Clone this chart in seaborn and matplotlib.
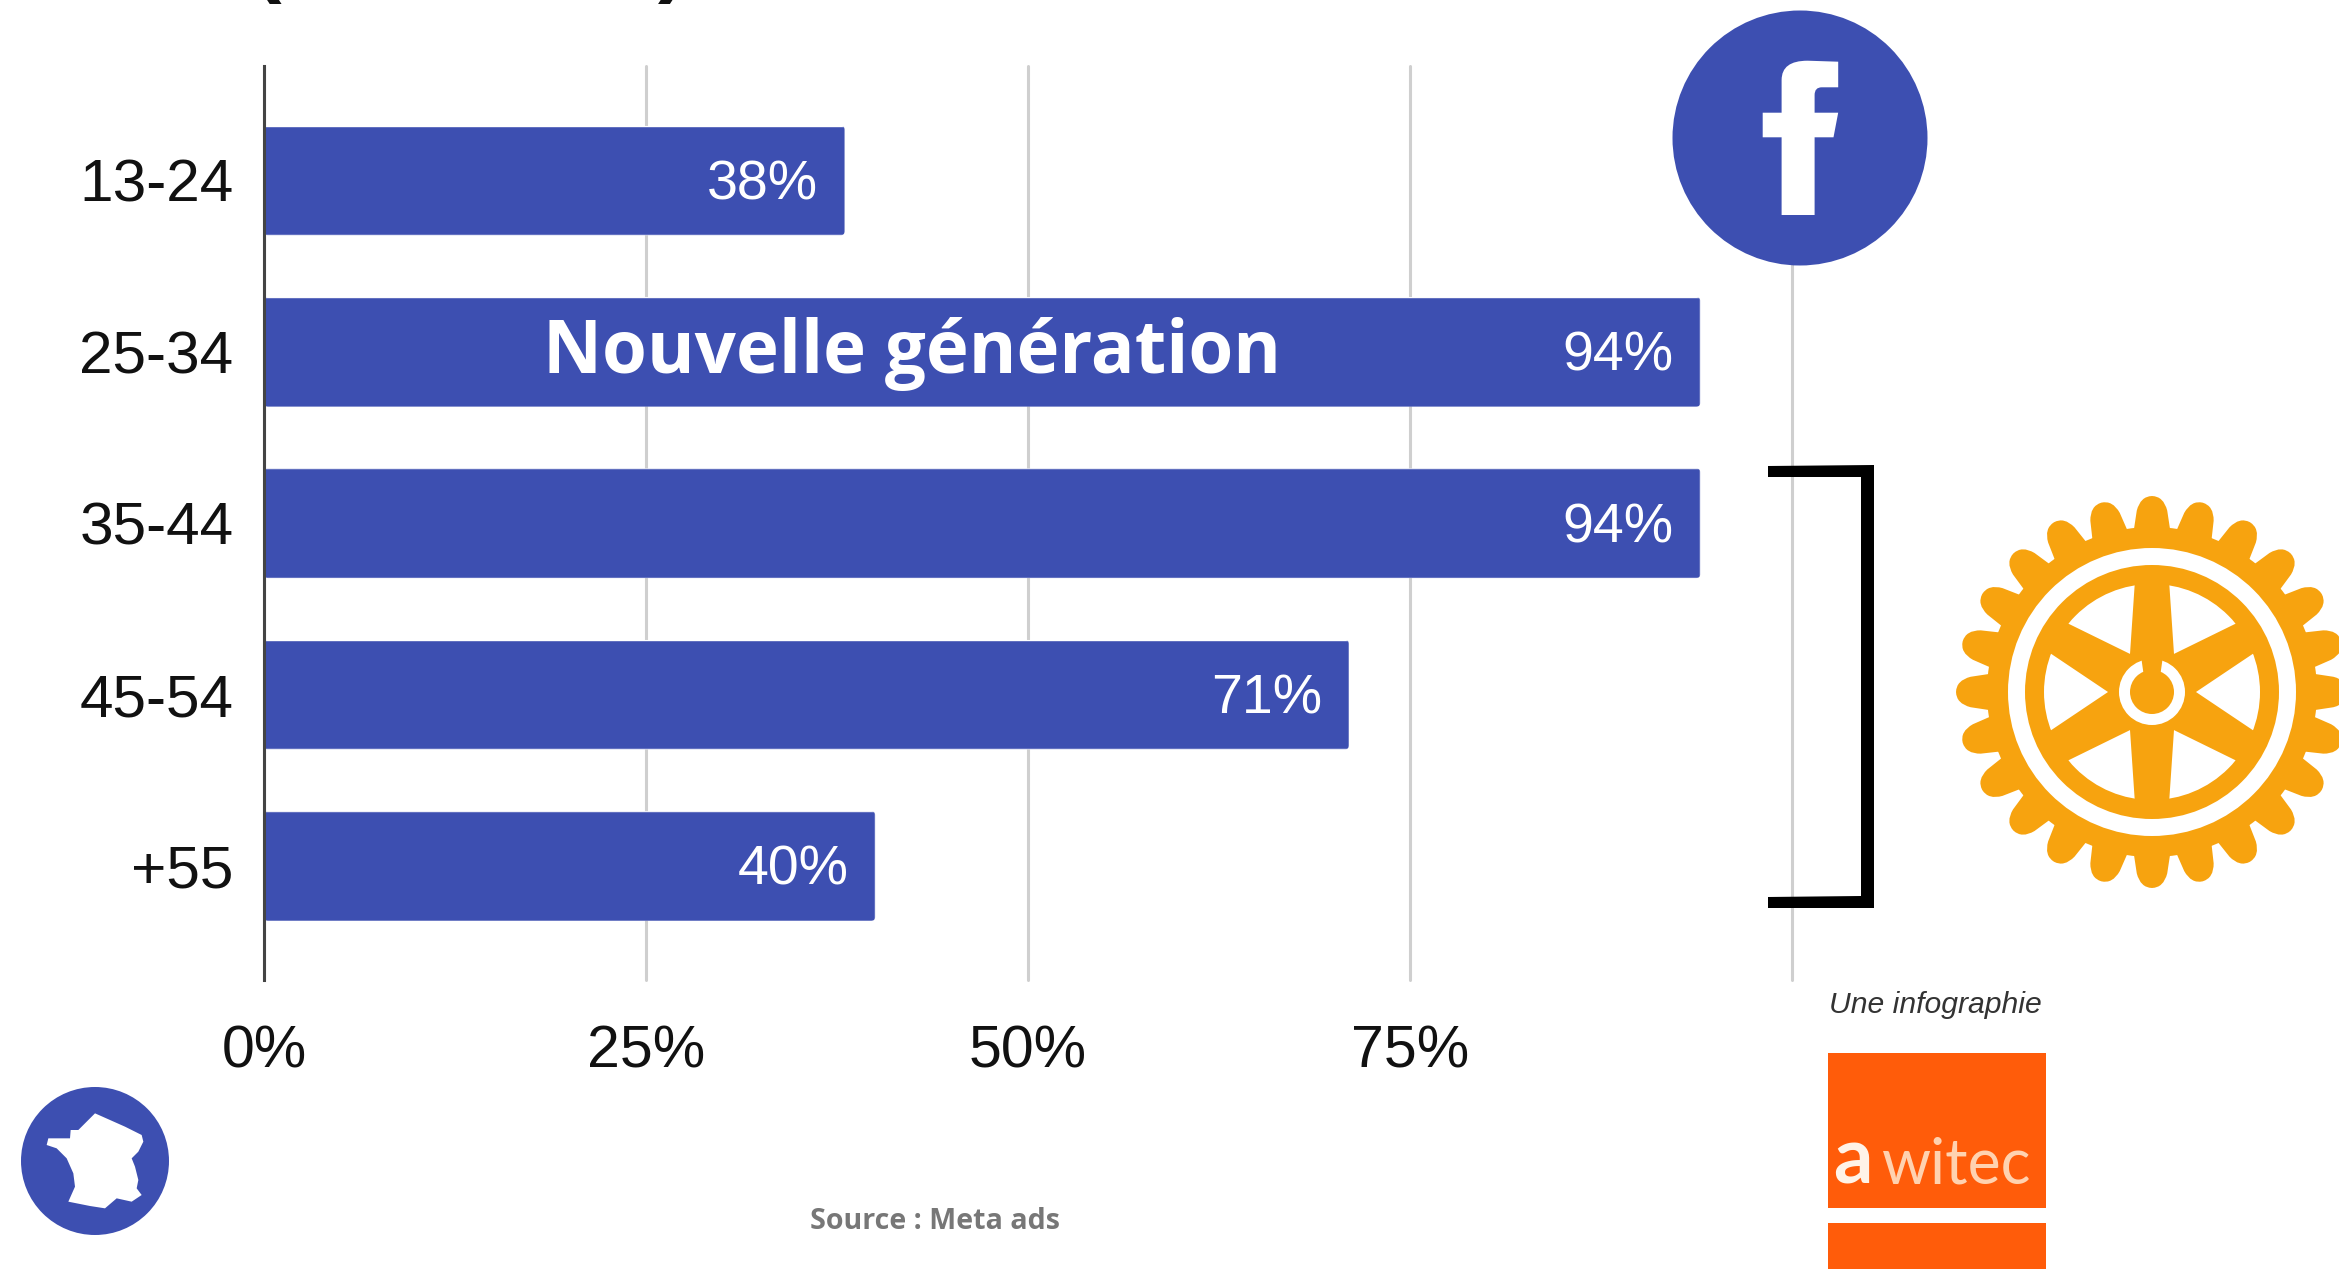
import numpy as np
import pandas as pd
import seaborn as sns
import matplotlib
matplotlib.use("Agg")
import matplotlib.pyplot as plt
from matplotlib.patches import Circle, FancyBboxPatch, PathPatch, Polygon, Rectangle
from matplotlib.path import Path

# Audience share by age group
age_groups = ["13-24", "25-34", "35-44", "45-54", "+55"]
shares = [38, 94, 94, 71, 40]
x_ticks = [0, 25, 50, 75, 100]
x_tick_labels = ["0%", "25%", "50%", "75%", ""]

BLUE = "#3D4FB1"
GOLD = "#F7A30F"
ORANGE = "#FF5C0A"
W, H = 2339, 1269

sns.set_theme(style="white")
plt.rcParams["font.family"] = ["Liberation Sans", "DejaVu Sans"]

fig = plt.figure(figsize=(W / 100, H / 100), dpi=100, facecolor="white")
ax = fig.add_axes([264 / W, 1 - 980 / H, (1792 - 264) / W, (980 - 66) / H])

df = pd.DataFrame({"age": age_groups, "share": shares})
sns.barplot(data=df, y="age", x="share", color=BLUE, saturation=1, width=0.64,
            orient="h", ax=ax, zorder=3)
ax.set_xlim(0, 100)
ax.set_ylim(4.665, -0.668)
ax.set_xlabel("")
ax.set_ylabel("")
ax.set_xticks(x_ticks, x_tick_labels)
ax.grid(axis="x", color="#CFCFCF", linewidth=2.2, zorder=0, clip_on=False)
ax.set_axisbelow(True)
for side in ("top", "right", "bottom"):
    ax.spines[side].set_visible(False)
ax.spines["left"].set_color("#444444")
ax.spines["left"].set_linewidth(2.2)
ax.spines["left"].set_zorder(5)
ax.tick_params(axis="x", length=0, pad=32, labelsize=42.5, labelcolor="#111111")
ax.tick_params(axis="y", length=0, pad=22, labelsize=43.5, labelcolor="#111111")

# Slightly rounded bar ends, and the value inside each bar
for bar, value in zip(ax.patches, shares):
    clip = FancyBboxPatch((bar.get_x(), bar.get_y()), bar.get_width(), bar.get_height(),
                          boxstyle="round,pad=0,rounding_size=0.28", mutation_aspect=0.09,
                          transform=ax.transData)
    bar.set_clip_path(clip)
    y = bar.get_y() + bar.get_height() / 2
    ax.annotate(f"{value}%", (value, y), xytext=(-19.4, -3.5), textcoords="offset points",
                ha="right", va="center", color="white", fontsize=40, zorder=6)

# Overlay in figure pixels for the logos and annotations
ov = fig.add_axes([0, 0, 1, 1], facecolor="none")
ov.set_xlim(0, W)
ov.set_ylim(H, 0)
ov.axis("off")

# Ends of the cropped heading
ov.text(253, -14, "(", fontsize=62, fontweight="bold", color="#111111", va="baseline")
ov.text(658, -14, ")", fontsize=62, fontweight="bold", color="#111111", va="baseline")

ov.text(543, 373, "Nouvelle génération", family="Open Sans", fontweight="bold",
        fontsize=52.3, color="white", va="baseline", zorder=8)
ov.text(810, 1229, "Source : Meta ads", family="Open Sans", fontweight="bold",
        fontsize=20.6, color="#777777", va="baseline")

# Facebook badge
ov.add_patch(Circle((1800, 138), 127.5, color=BLUE, lw=0))
f_verts = [(1781.6, 215), (1814.6, 215), (1814.6, 137.3), (1833.5, 137.3), (1838.2, 112.7),
           (1814.6, 112.7), (1814.6, 95), (1814.6, 87.3), (1821.7, 87.3), (1838.2, 87.3),
           (1838.2, 61.7), (1807.5, 60.7), (1781.6, 60.7), (1781.6, 80), (1781.6, 112.7),
           (1762.7, 112.7), (1762.7, 137.3), (1781.6, 137.3), (1781.6, 215)]
f_codes = [Path.MOVETO, Path.LINETO, Path.LINETO, Path.LINETO, Path.LINETO, Path.LINETO,
           Path.LINETO, Path.CURVE3, Path.CURVE3, Path.LINETO, Path.LINETO, Path.LINETO,
           Path.CURVE3, Path.CURVE3, Path.LINETO, Path.LINETO, Path.LINETO, Path.LINETO,
           Path.CLOSEPOLY]
ov.add_patch(PathPatch(Path(f_verts, f_codes), facecolor="white", lw=0))

# Bracket spanning the 35-44 to +55 bars
bracket = [(1768, 466), (1874, 465), (1874, 908), (1768, 908), (1768, 897), (1861, 896),
           (1861, 477), (1768, 477)]
ov.add_patch(Polygon(bracket, closed=True, facecolor="black", lw=0, zorder=7))

# Cog wheel
cx, cy = 2152, 692


def polar(r, deg):
    a = np.deg2rad(deg)
    return cx + r * np.sin(a), cy - r * np.cos(a)


verts, codes = [], []
for tooth in range(24):
    c = tooth * 15.0
    pts = [polar(163, c - 7.5), polar(163, c - 6.4), polar(182, c - 4.8), polar(196, c - 3.4),
           polar(196, c), polar(196, c + 3.4), polar(182, c + 4.8), polar(163, c + 6.4)]
    kinds = [Path.LINETO, Path.LINETO, Path.LINETO, Path.CURVE3, Path.CURVE3, Path.CURVE3,
             Path.CURVE3, Path.LINETO]
    verts += pts
    codes += kinds
codes[0] = Path.MOVETO
verts.append(verts[0])
codes.append(Path.CLOSEPOLY)
ov.add_patch(PathPatch(Path(verts, codes), facecolor=GOLD, lw=0))
for radius, colour in [(165, GOLD), (144, "white"), (127, GOLD), (108, "white")]:
    ov.add_patch(Circle((cx, cy), radius, color=colour, lw=0))
for spoke in range(6):
    a = np.deg2rad(spoke * 60.0)
    outline = [(0, 22), (38, 22), (112, 17), (112, -17), (38, -22), (0, -22)]
    rot = [(cx + along * np.sin(a) + half * np.cos(a),
            cy - along * np.cos(a) + half * np.sin(a)) for along, half in outline]
    ov.add_patch(Polygon(rot, closed=True, facecolor=GOLD, lw=0))
ov.add_patch(Circle((cx, cy), 33, color="white", lw=0))
ov.add_patch(Circle((cx, cy), 22, color=GOLD, lw=0))
ov.add_patch(Polygon([(cx - 8, cy - 15), (cx + 8, cy - 15), (cx + 11, cy - 36), (cx - 11, cy - 36)],
                     closed=True, facecolor=GOLD, lw=0))

# France badge
ov.add_patch(Circle((95, 1161), 74, color=BLUE, lw=0))
france_zoomed = [(255, 100), (300, 120), (345, 140), (395, 165), (400, 185), (385, 215), (365, 235),
                 (375, 260), (385, 300), (380, 325), (395, 345), (365, 365), (320, 355), (285, 385),
                 (240, 378), (175, 365), (195, 320), (190, 280), (170, 235), (140, 205), (110, 195),
                 (115, 175), (180, 175), (182, 150), (205, 150), (230, 125)]
france = [(x / 3 + 10, y / 3 + 1080) for x, y in france_zoomed]
ov.add_patch(Polygon(france, closed=True, facecolor="white", lw=0))

# Publisher block
ov.text(1829, 1013, "Une infographie", fontsize=21.7, style="italic", color="#333333", va="baseline")
ov.add_patch(Rectangle((1828, 1053), 218, 155, facecolor=ORANGE, lw=0))
ov.add_patch(Rectangle((1828, 1223), 218, 60, facecolor=ORANGE, lw=0))
ov.text(1833, 1183, "a", family="Lato", fontweight="bold", fontsize=56, color="#FFF3E8", va="baseline")
ov.text(1882, 1183, "witec", family="Lato", fontweight="normal", fontsize=45, color="#FFD2B0", va="baseline")

fig.savefig("out.png", dpi=100, facecolor="white")
